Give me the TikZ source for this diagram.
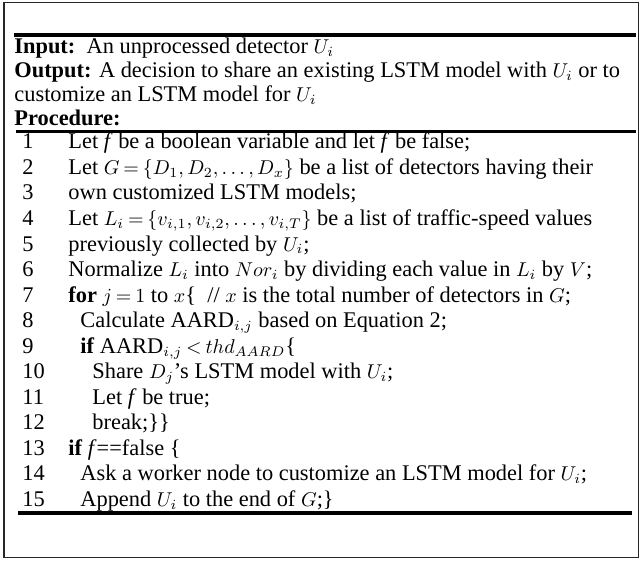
\documentclass[tikz,border=0pt]{standalone}
\usepackage{fontspec}
\setmainfont{Liberation Serif}
\DeclareMathSizes{11.2}{10.3}{7.4}{5.5}
\thickmuskip=3.5mu
\medmuskip=2.5mu
\newcommand{\tdots}{\ldotp\ldotp\ldotp}
\begin{document}
\begin{tikzpicture}[x=0.5pt,y=-0.5pt,
  algline/.style={anchor=base west,inner sep=0pt,font=\fontsize{11.2}{12}\selectfont},
  algrule/.style={line width=1.6pt}]
  \useasboundingbox (0,0) rectangle (642,561);
  \draw[line width=0.8pt,black!85] (4,2.5) rectangle (638.5,557.5);
  % header
  \draw[algrule] (14,35) -- (636,35);
  \node[algline] (input) at (14,54) {\textbf{Input:}\ \ An unprocessed detector $U_i$};
  \node[algline] (output) at (14,78) {\textbf{Output:} A decision to share an existing LSTM model with $U_i$ or to};
  \node[algline] (output2) at (14,102) {customize an LSTM model for $U_i$};
  \node[algline] (proc) at (14,126) {\textbf{Procedure:}};
  \draw[algrule] (16,131.5) -- (636,131.5);
  % line numbers
  \foreach \i in {1,...,15}
    \node[algline] (n\i) at (22,{149+25.5*(\i-1)}) {\i};
  % procedure body
  \node[algline] (l1) at (68,149) {Let \textit{f} be a boolean variable and let \textit{f} be false;};
  \node[algline] (l2) at (68,174.5) {Let $G=\{D_1,D_2,\tdots,D_x\}$ be a list of detectors having their};
  \node[algline] (l3) at (68,200) {own customized LSTM models;};
  \node[algline] (l4) at (68,225.5) {Let $L_i=\{v_{i,1},v_{i,2},\tdots,v_{i,T}\}$ be a list of traffic-speed values};
  \node[algline] (l5) at (68,251) {previously collected by $U_i$;};
  \node[algline] (l6) at (68,276.5) {Normalize $L_i$ into $Nor_i$ by dividing each value in $L_i$ by $V$;};
  \node[algline] (l7) at (68,302) {\textbf{for} $j=1$ to $x$\{\ \ // $x$ is the total number of detectors in $G$;};
  \node[algline] (l8) at (80,327.5) {Calculate AARD$_{i,j}$ based on Equation 2;};
  \node[algline] (l9) at (80,353) {\textbf{if} AARD$_{i,j}<thd_{AARD}$\{};
  \node[algline] (l10) at (92,378.5) {Share $D_j$'s LSTM model with $U_i$;};
  \node[algline] (l11) at (92,404) {Let \textit{f} be true;};
  \node[algline] (l12) at (92,429.5) {break;\}\}};
  \node[algline] (l13) at (68,455) {\textbf{if} \textit{f}==false \{};
  \node[algline] (l14) at (80,480.5) {Ask a worker node to customize an LSTM model for $U_i$;};
  \node[algline] (l15) at (80,506) {Append $U_i$ to the end of $G$;\}};
  \draw[algrule] (18,513) -- (632,513);
\end{tikzpicture}
\end{document}
